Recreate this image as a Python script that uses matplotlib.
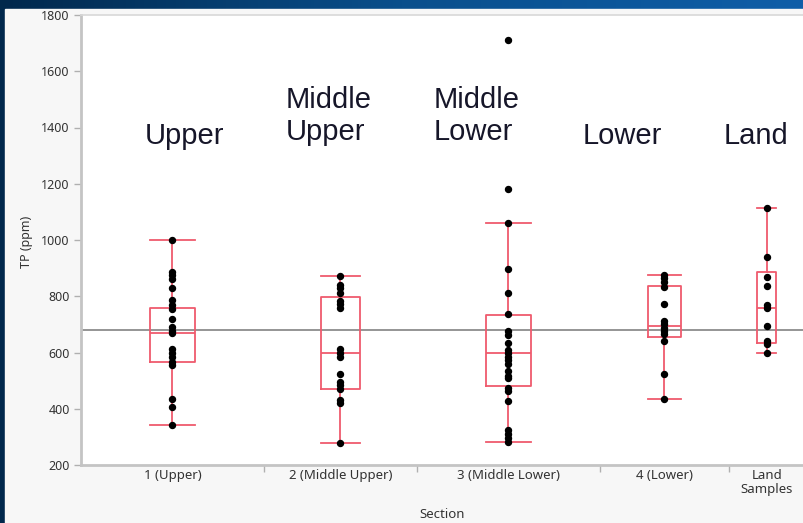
import numpy as np
import matplotlib
matplotlib.use("Agg")
import matplotlib.pyplot as plt
from matplotlib.patches import Rectangle

# data (TP in ppm)
sections = ["1 (Upper)", "2 (Middle Upper)", "3 (Middle Lower)", "4 (Lower)", "Land\nSamples"]
banner = ["Upper", "Middle\nUpper", "Middle\nLower", "Lower", "Land"]

upper = [1000, 885, 875, 860, 828, 785, 768, 755, 720, 690, 678, 668,
         612, 598, 585, 568, 555, 435, 408, 343]
middle_upper = [872, 840, 828, 810, 783, 771, 760, 612, 598, 585, 522,
                495, 483, 472, 432, 420, 278]
middle_lower = [1710, 1180, 1062, 896, 813, 736, 675, 663, 635, 610, 598,
                585, 572, 560, 535, 518, 508, 474, 462, 428, 324, 310, 295, 281]
lower = [876, 864, 850, 832, 771, 712, 700, 688, 675, 665, 640, 525, 435]
land = [1115, 941, 870, 836, 768, 757, 694, 642, 630, 600]
groups = [upper, middle_upper, middle_lower, lower, land]

# box summary as drawn (JMP quantiles)
q1 = [568, 472, 481, 655, 635]
med = [668, 597, 599, 694, 757]
q3 = [758, 798, 733, 836, 887]
whis_lo = [343, 278, 281, 435, 600]
whis_hi = [1000, 872, 1062, 876, 1115]
grand_mean = 680

# layout: variable category widths (pixels of the original)
edges = np.array([0, 183, 336, 519, 648, 724])
centers = (edges[:-1] + edges[1:]) / 2
widths = np.diff(edges)

W, H = 804, 523
fig = plt.figure(figsize=(W / 100, H / 100), dpi=100)

# slide background: blue gradient + light grey panel
bg = fig.add_axes([0, 0, 1, 1], zorder=-10)
grad = np.linspace(0, 1, 256)[None, :]
cmap = matplotlib.colors.LinearSegmentedColormap.from_list("slide", ["#01284c", "#0a4f8c", "#0f5ea8"])
bg.imshow(grad, aspect="auto", cmap=cmap, extent=[0, 1, 0, 1])
bg.add_patch(Rectangle((5 / W, 0), 1, 1 - 9 / H, color="#f7f7f7", transform=bg.transAxes))
bg.set_xlim(0, 1)
bg.set_ylim(0, 1)
bg.axis("off")

ax = fig.add_axes([81 / W, (H - 465) / H, 724 / W, 450 / H])
ax.set_facecolor("white")

box_col = "#ef5b6d"
stats = []
for i in range(len(groups)):
    stats.append(dict(med=med[i], q1=q1[i], q3=q3[i], whislo=whis_lo[i], whishi=whis_hi[i], fliers=[]))
ax.bxp(stats, positions=centers, widths=widths * 0.25, showfliers=False,
       boxprops=dict(color=box_col, lw=1.3),
       medianprops=dict(color=box_col, lw=1.3),
       whiskerprops=dict(color=box_col, lw=1.3),
       capprops=dict(color=box_col, lw=1.3),
       capwidths=widths * 0.25, zorder=2, manage_ticks=False)

for x, vals in zip(centers, groups):
    ax.plot(np.full(len(vals), x), vals, "o", color="black", ms=4.3, zorder=3)

ax.axhline(grand_mean, color="#8c8c8c", lw=1.3, zorder=1)

ax.set_xlim(0, 724)
ax.set_ylim(200, 1800)
ax.set_yticks(np.arange(200, 1801, 200))
ax.set_xticks(edges[1:-1])
ax.set_xticklabels([])
ax.set_xticks(centers, minor=True)
ax.set_xticklabels(sections, minor=True, fontsize=9.5, color="#333333", family="Noto Sans",
                   linespacing=1.1)
ax.tick_params(axis="x", which="minor", length=0, pad=3)
ax.tick_params(axis="x", which="major", length=5, color="#b0b0b0", width=1)
ax.tick_params(axis="y", length=5, color="#b0b0b0", width=1, labelsize=9, labelcolor="#333333", pad=3)
for lab in ax.get_yticklabels():
    lab.set_family("Noto Sans")

for s in ["left", "bottom"]:
    ax.spines[s].set_color("#c4c4c4")
    ax.spines[s].set_linewidth(2)
ax.spines["top"].set_color("#d8d8d8")
ax.spines["top"].set_linewidth(1.2)
ax.spines["right"].set_visible(False)

fig.text(27 / W, 1 - 242 / H, "TP (ppm)", rotation=90, ha="center", va="center",
         fontsize=9, color="#333333", family="Noto Sans")
fig.text(442 / W, 1 - 514 / H, "Section", ha="center", va="center",
         fontsize=9.5, color="#333333", family="Noto Sans")

# big section names above the boxes
banner_x = [145, 286, 434, 583, 724]
banner_y = [136, 116, 116, 136, 136]
for t, bx, by in zip(banner, banner_x, banner_y):
    fig.text(bx / W, 1 - by / H, t, ha="left", va="center", fontsize=21,
             color="#161629", family="Liberation Sans", linespacing=1.2)

fig.savefig("out.png", dpi=100)
